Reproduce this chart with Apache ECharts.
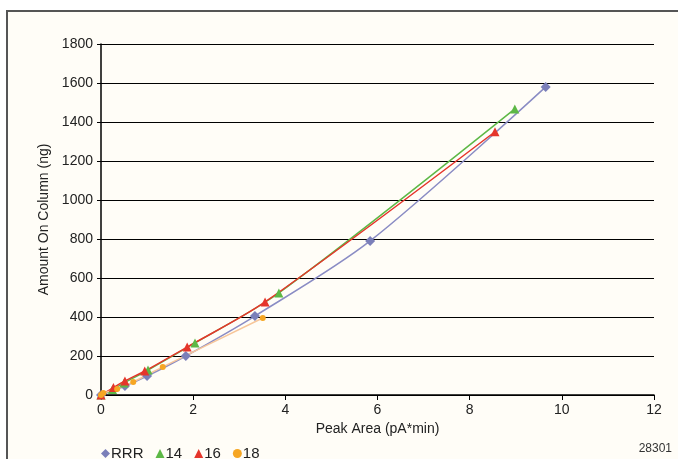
<!DOCTYPE html>
<html>
<head>
<meta charset="utf-8">
<script src="https://cdn.jsdelivr.net/npm/echarts@6/dist/echarts.min.js"></script>
<style>
  html, body { margin: 0; padding: 0; background: #ffffff; }
  #chart { width: 678px; height: 459px; }
</style>
</head>
<body>
<div id="chart"></div>
<script>
// peak area (pA*min) vs amount on column (ng)
const rrrX = [0, 0.52, 1.0, 1.84, 3.34, 5.84, 9.65];
const rrrY = [0, 46, 97, 200, 405, 790, 1580];
const c14X = [0, 0.25, 0.5, 1.02, 2.04, 3.86, 8.98];
const c14Y = [0, 28, 62, 128, 267, 523, 1467];
const c16X = [0, 0.27, 0.52, 0.95, 1.87, 3.56, 8.55];
const c16Y = [0, 38, 72, 123, 246, 477, 1350];
const c18X = [0, 0.05, 0.35, 0.7, 1.34, 3.51];
const c18Y = [0, 10, 31, 67, 144, 395];

const font = '"Liberation Sans Narrow", "Liberation Sans", sans-serif';
const pairs = (xs, ys) => xs.map((x, i) => [x, ys[i]]);

function mkSeries(name, xs, ys, symbol, size, markColor, lineColor) {
  return {
    name: name,
    type: 'line',
    smooth: 0.3,
    symbol: symbol,
    symbolSize: size,
    data: pairs(xs, ys),
    itemStyle: { color: markColor },
    lineStyle: { color: lineColor, width: 1.5 },
    emphasis: { disabled: true }
  };
}

const chart = echarts.init(document.getElementById('chart'));
chart.setOption({
  animation: false,
  backgroundColor: '#ffffff',
  graphic: [
    {
      type: 'rect',
      shape: { x: 7, y: 11, width: 720, height: 500 },
      style: { fill: '#fffdf7', stroke: '#555555', lineWidth: 2 },
      z: -10
    },
    {
      type: 'text',
      right: 6,
      top: 443,
      style: { text: '28301', font: '12px ' + font, fill: '#333333' }
    }
  ],
  grid: { left: 101, right: 24, top: 44, bottom: 64 },
  legend: {
    left: 96,
    top: 441,
    itemWidth: 9,
    itemHeight: 9,
    itemGap: 12,
    textStyle: { fontFamily: font, fontSize: 15, color: '#222222', padding: [0, 0, 0, -4] },
    data: [
      { name: 'RRR', icon: 'diamond' },
      { name: '14', icon: 'triangle' },
      { name: '16', icon: 'triangle' },
      { name: '18', icon: 'circle' }
    ]
  },
  xAxis: {
    type: 'value',
    min: 0,
    max: 12,
    interval: 2,
    name: 'Peak Area (pA*min)',
    nameLocation: 'middle',
    nameGap: 25,
    nameTextStyle: { fontFamily: font, fontSize: 14, color: '#222222' },
    axisLine: { lineStyle: { color: '#000000', width: 1.5 } },
    axisTick: { show: true, length: 5, lineStyle: { color: '#000000' } },
    axisLabel: { fontFamily: font, fontSize: 14, color: '#222222', margin: 8 },
    splitLine: { show: false }
  },
  yAxis: {
    type: 'value',
    min: 0,
    max: 1800,
    interval: 200,
    name: 'Amount On Column (ng)',
    nameLocation: 'middle',
    nameGap: 50,
    nameTextStyle: { fontFamily: font, fontSize: 14, color: '#222222' },
    axisLine: { show: true, lineStyle: { color: '#000000', width: 1.5 } },
    axisTick: { show: true, length: 4, lineStyle: { color: '#000000' } },
    axisLabel: { fontFamily: font, fontSize: 14, color: '#222222', margin: 8, formatter: v => String(v) },
    splitLine: { show: true, lineStyle: { color: '#000000', width: 1.2 } }
  },
  series: [
    mkSeries('RRR', rrrX, rrrY, 'diamond', 10, '#7b7fb9', '#8a8cc4'),
    mkSeries('14', c14X, c14Y, 'triangle', 9, '#5db846', '#5db846'),
    mkSeries('16', c16X, c16Y, 'triangle', 9, '#e5352b', '#e5352b'),
    mkSeries('18', c18X, c18Y, 'circle', 6, '#f6a623', '#f7c69a')
  ]
});
</script>
</body>
</html>
